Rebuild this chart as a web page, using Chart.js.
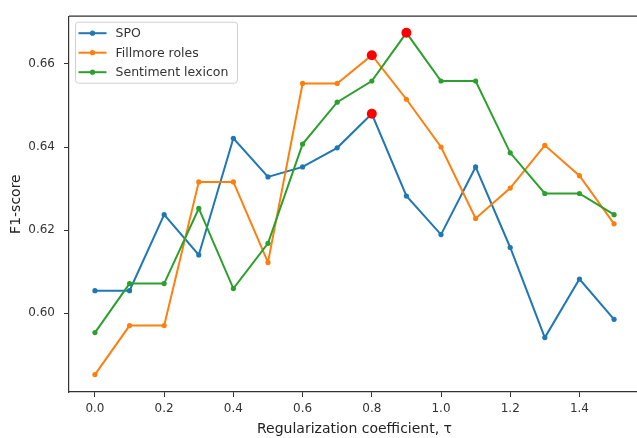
<!DOCTYPE html>
<html>
<head>
<meta charset="utf-8">
<script src="https://cdn.jsdelivr.net/npm/chart.js@4"></script>
<style>
    html, body { margin: 0; padding: 0; background: #fff; overflow: hidden; }
    #wrap { width: 646px; height: 438px; }
</style>
</head>
<body>
<div id="wrap"><canvas id="mainChart" width="646" height="438"></canvas></div>
<script>
// Regularization coefficient values (x)
const tauValues = [0.0, 0.1, 0.2, 0.3, 0.4, 0.5, 0.6, 0.7, 0.8, 0.9, 1.0, 1.1, 1.2, 1.3, 1.4, 1.5];

// F1-scores
const spoScores = [0.6054, 0.6054, 0.6237, 0.6140, 0.6421, 0.6328, 0.6352, 0.6398, 0.6480, 0.6282, 0.6189, 0.6352, 0.6158, 0.5941, 0.6082, 0.5985];
const fillmoreScores = [0.5852, 0.5970, 0.5970, 0.6316, 0.6316, 0.6122, 0.6553, 0.6553, 0.6621, 0.6515, 0.6400, 0.6228, 0.6301, 0.6404, 0.6331, 0.6215];
const sentimentScores = [0.5953, 0.6071, 0.6071, 0.6252, 0.6059, 0.6168, 0.6407, 0.6508, 0.6559, 0.6675, 0.6559, 0.6559, 0.6386, 0.6288, 0.6288, 0.6237];

// best scores per series (red markers)
const bestTau = [0.8, 0.8, 0.9];
const bestScores = [0.6480, 0.6621, 0.6675];

const seriesNames = ['SPO', 'Fillmore roles', 'Sentiment lexicon'];
const seriesColors = ['#1f77b4', '#ff7f0e', '#2ca02c'];

const xTicks = [0.0, 0.2, 0.4, 0.6, 0.8, 1.0, 1.2, 1.4];
const yTicks = [0.60, 0.62, 0.64, 0.66];

const FONT = 'DejaVu Sans';

function toPoints(xs, ys) {
    return xs.map((x, i) => ({ x: x, y: ys[i] }));
}

function lineDataset(label, values, color, order) {
    return {
        label: label,
        data: toPoints(tauValues, values),
        borderColor: color,
        backgroundColor: color,
        borderWidth: 2,
        tension: 0,
        pointRadius: 2.6,
        pointBorderWidth: 0,
        pointBackgroundColor: color,
        order: order
    };
}

// frame on top and right, like matplotlib's box
const framePlugin = {
    id: 'frame',
    afterDraw(chart) {
        const { ctx, chartArea: a } = chart;
        ctx.save();
        ctx.strokeStyle = '#333';
        ctx.lineWidth = 1.2;
        ctx.beginPath();
        ctx.moveTo(a.left, a.top);
        ctx.lineTo(a.right, a.top);
        ctx.lineTo(a.right, a.bottom);
        ctx.stroke();
        ctx.restore();
    }
};

// legend drawn inside the plot, upper left
const insetLegend = {
    id: 'insetLegend',
    afterDraw(chart) {
        const { ctx, chartArea: a } = chart;
        const x0 = a.left + 6.5, y0 = a.top + 6;
        const w = 162, h = 61, r = 3;
        ctx.save();
        ctx.fillStyle = 'rgba(255,255,255,0.85)';
        ctx.strokeStyle = '#d0d0d0';
        ctx.lineWidth = 1;
        ctx.beginPath();
        ctx.roundRect(x0, y0, w, h, r);
        ctx.fill();
        ctx.stroke();

        ctx.font = '12.5px "' + FONT + '"';
        ctx.textBaseline = 'middle';
        seriesNames.forEach((name, i) => {
            const cy = y0 + 11 + i * 19.5;
            ctx.strokeStyle = seriesColors[i];
            ctx.lineWidth = 2;
            ctx.beginPath();
            ctx.moveTo(x0 + 3, cy);
            ctx.lineTo(x0 + 31, cy);
            ctx.stroke();
            ctx.fillStyle = seriesColors[i];
            ctx.beginPath();
            ctx.arc(x0 + 17, cy, 2.6, 0, Math.PI * 2);
            ctx.fill();
            ctx.fillStyle = '#333';
            ctx.fillText(name, x0 + 40, cy + 1);
        });
        ctx.restore();
    }
};

const ctx = document.getElementById('mainChart');

new Chart(ctx, {
    type: 'line',
    data: {
        datasets: [
            {
                label: 'best',
                data: toPoints(bestTau, bestScores),
                showLine: false,
                pointRadius: 5,
                pointBorderWidth: 0,
                pointBackgroundColor: '#ff0000',
                borderColor: '#ff0000',
                order: 0
            },
            lineDataset(seriesNames[0], spoScores, seriesColors[0], 3),
            lineDataset(seriesNames[1], fillmoreScores, seriesColors[1], 2),
            lineDataset(seriesNames[2], sentimentScores, seriesColors[2], 1)
        ]
    },
    options: {
        responsive: false,
        animation: false,
        layout: { padding: { top: 10, right: 6, bottom: 0, left: 0 } },
        plugins: {
            legend: { display: false },
            tooltip: { enabled: false }
        },
        scales: {
            x: {
                type: 'linear',
                min: -0.075,
                max: 1.575,
                afterBuildTicks: (scale) => { scale.ticks = xTicks.map(v => ({ value: v })); },
                afterFit: (scale) => { scale.height = 46; },
                grid: { drawOnChartArea: false, drawTicks: true, tickLength: 5, tickColor: '#333', tickWidth: 1 },
                border: { display: true, color: '#333', width: 1.2 },
                ticks: {
                    color: '#333',
                    padding: 5,
                    maxRotation: 0,
                    font: { family: FONT, size: 12 },
                    callback: (v) => Number(v).toFixed(1)
                },
                title: {
                    display: true,
                    text: 'Regularization coefficient, τ',
                    color: '#222',
                    font: { family: FONT, size: 14 },
                    padding: { top: 0, bottom: 0 }
                }
            },
            y: {
                type: 'linear',
                min: 0.581,
                max: 0.6715,
                afterBuildTicks: (scale) => { scale.ticks = yTicks.map(v => ({ value: v })); },
                afterFit: (scale) => { scale.width = 69; },
                grid: { drawOnChartArea: false, drawTicks: true, tickLength: 5, tickColor: '#333', tickWidth: 1 },
                border: { display: true, color: '#333', width: 1.2 },
                ticks: {
                    color: '#333',
                    padding: 9,
                    font: { family: FONT, size: 12 },
                    callback: (v) => Number(v).toFixed(2)
                },
                title: {
                    display: true,
                    text: 'F1-score',
                    color: '#222',
                    font: { family: FONT, size: 14 },
                    padding: { top: 8, bottom: 0 }
                }
            }
        }
    },
    plugins: [framePlugin, insetLegend]
});
</script>
</body>
</html>
